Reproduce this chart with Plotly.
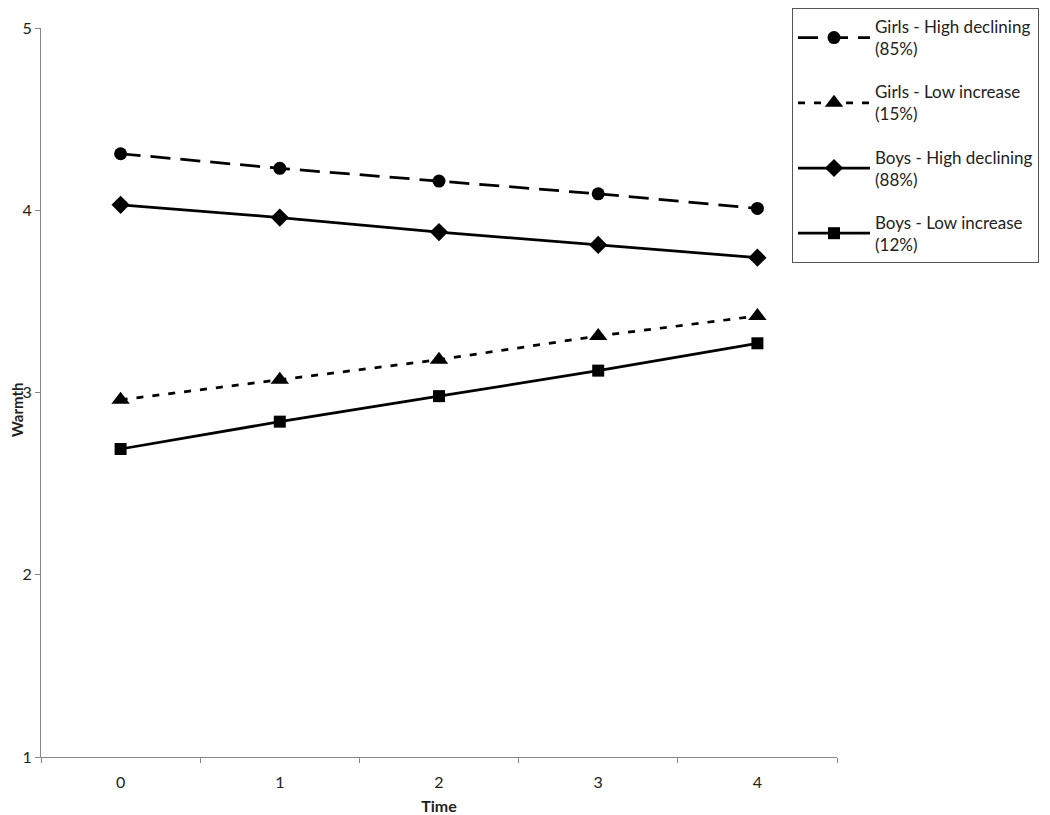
import plotly.graph_objects as go

# Warmth trajectories by group
time_points = ["0", "1", "2", "3", "4"]
girls_high_declining = [4.31, 4.23, 4.16, 4.09, 4.01]
girls_low_increase = [2.96, 3.07, 3.18, 3.31, 3.42]
boys_high_declining = [4.03, 3.96, 3.88, 3.81, 3.74]
boys_low_increase = [2.69, 2.84, 2.98, 3.12, 3.27]

series_names = [
    "Girls - High declining<br>(85%)",
    "Girls - Low increase<br>(15%)",
    "Boys - High declining<br>(88%)",
    "Boys - Low increase<br>(12%)",
]

FONT = "Lato"
AXIS_GREY = "#878787"

# page body adds an 8px margin, so the figure is a bit smaller than the window
W, H = 1042, 807

styles = [
    dict(dash="20px,10px", symbol="circle", size=13),
    dict(dash="7px,9px", symbol="triangle-up", size=16),
    dict(dash="solid", symbol="diamond", size=14),
    dict(dash="solid", symbol="square", size=12),
]
all_values = [girls_high_declining, girls_low_increase, boys_high_declining, boys_low_increase]

fig = go.Figure()
for i, (name, vals, st) in enumerate(zip(series_names, all_values, styles)):
    fig.add_trace(
        go.Scatter(
            x=time_points,
            y=vals,
            name=name,
            mode="lines+markers",
            legendgroup=f"g{i}",
            line=dict(color="black", width=2.75, dash=st["dash"]),
            marker=dict(color="black", symbol=st["symbol"], size=st["size"]),
        )
    )

fig.update_layout(
    width=W,
    height=H,
    plot_bgcolor="white",
    paper_bgcolor="white",
    margin=dict(l=33, r=213, t=20, b=58, autoexpand=False),
    font=dict(family=FONT, size=16, color="#222"),
    legend=dict(
        xref="container",
        yref="container",
        x=784 / W,
        y=1.0,
        xanchor="left",
        yanchor="top",
        bordercolor="#555",
        borderwidth=1,
        bgcolor="white",
        tracegroupgap=18,
        font=dict(family=FONT, size=17, color="#222"),
        itemwidth=72,
    ),
)

# y title as an annotation so it can sit right at the left edge like the original
fig.add_annotation(
    text="<b>Warmth</b>",
    xref="paper",
    yref="paper",
    x=0,
    y=0.476,
    xanchor="center",
    yanchor="middle",
    xshift=-24,
    textangle=-90,
    showarrow=False,
    borderpad=0,
    font=dict(family=FONT, size=15, color="#222"),
)

fig.update_xaxes(
    type="category",
    range=[-0.5, 4.5],
    tickson="boundaries",
    ticks="outside",
    ticklen=5,
    ticklabelstandoff=11,
    tickcolor=AXIS_GREY,
    showline=True,
    linecolor=AXIS_GREY,
    showgrid=False,
    zeroline=False,
    automargin=False,
    title=dict(text="<b>Time</b>", font=dict(size=16), standoff=12),
)
fig.update_yaxes(
    range=[1, 5],
    dtick=1,
    ticks="outside",
    ticklen=5,
    tickcolor=AXIS_GREY,
    showline=True,
    linecolor=AXIS_GREY,
    showgrid=False,
    zeroline=False,
    automargin=False,
)

fig.write_html("out.html")
